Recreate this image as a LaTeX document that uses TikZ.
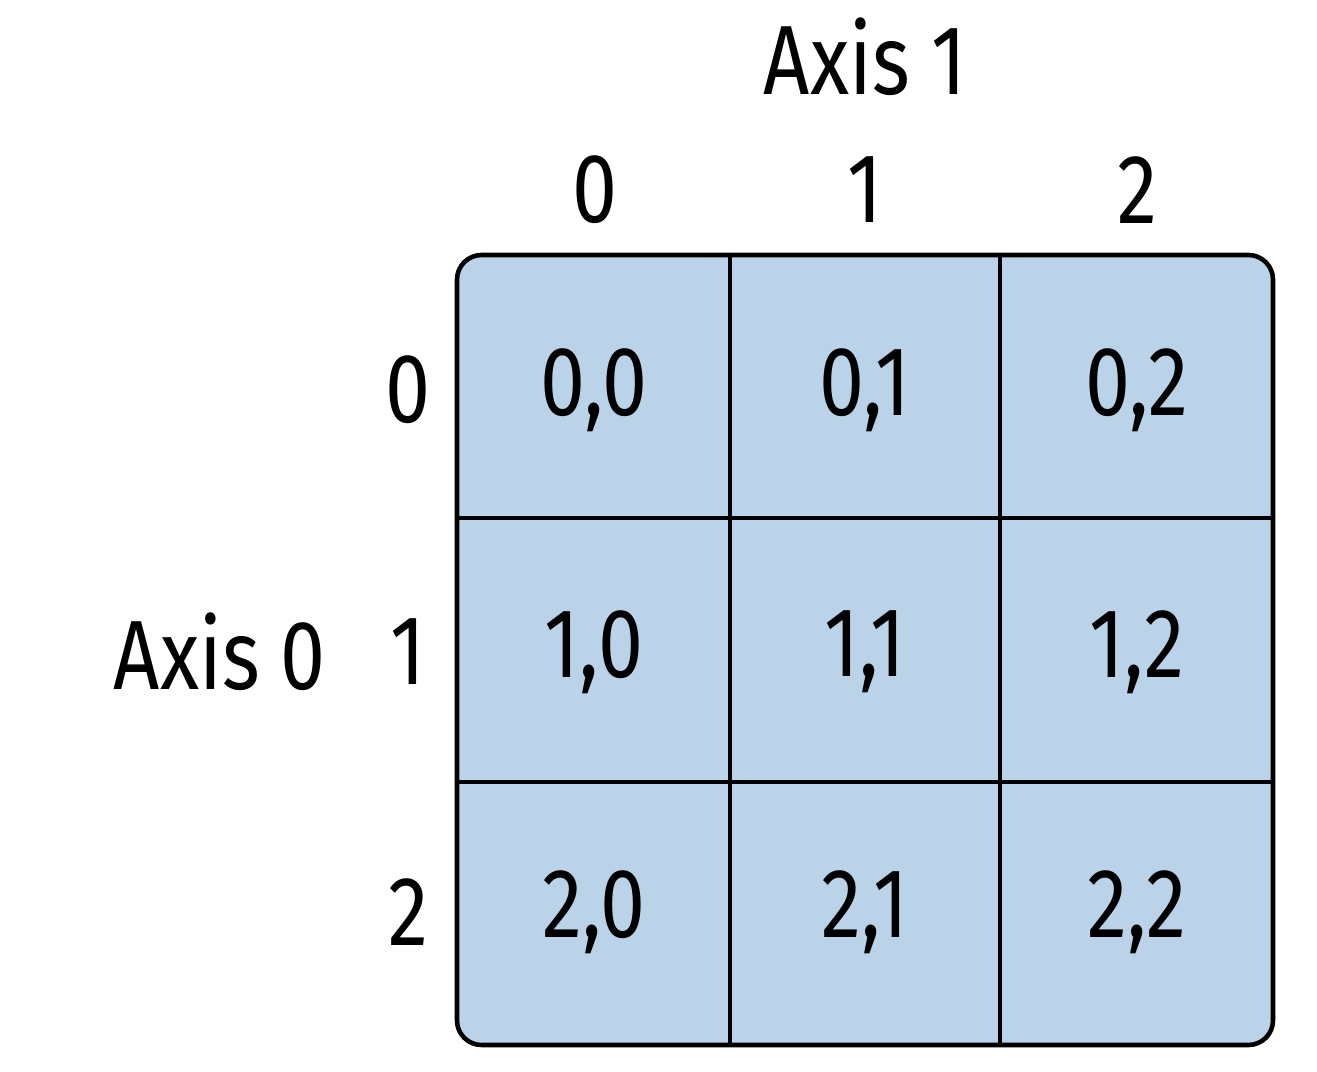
\documentclass[tikz,border=0pt]{standalone}
\usepackage{fontspec}
\setmainfont{Fira Sans}[FakeStretch=0.82]
\definecolor{cellblue}{HTML}{BAD3E9}
\begin{document}
\begin{tikzpicture}[x=0.02cm,y=-0.02cm,
  lab/.style={font=\fontsize{56}{60}\selectfont, inner sep=0pt, anchor=center},
  gridline/.style={line width=2.6pt, draw=black}]
\useasboundingbox (0,0) rectangle (1317,1071);
\draw[gridline, fill=cellblue, rounded corners=14pt] (457,255) rectangle (1273,1045);
\draw[gridline] (730,255) -- (730,1045);
\draw[gridline] (1000,255) -- (1000,1045);
\draw[gridline] (457,518) -- (1273,518);
\draw[gridline] (457,782) -- (1273,782);
\node[lab] (ax1) at (865,57) {Axis 1};
\node[lab] (ax0) at (220,652) {Axis 0};
\node[lab] (c0) at (595,190) {0};
\node[lab] (c1) at (865,190) {1};
\node[lab] (c2) at (1137,190) {2};
\node[lab] (r0) at (408,390) {0};
\node[lab] (r1) at (408,652) {1};
\node[lab] (r2) at (408,912) {2};
\foreach \r/\y in {0/390,1/652,2/912}{
  \foreach \c/\x in {0/594,1/865,2/1137}{
    \node[lab] (cell\r\c) at (\x,\y) {\r,\c};
  }
}
\end{tikzpicture}
\end{document}
